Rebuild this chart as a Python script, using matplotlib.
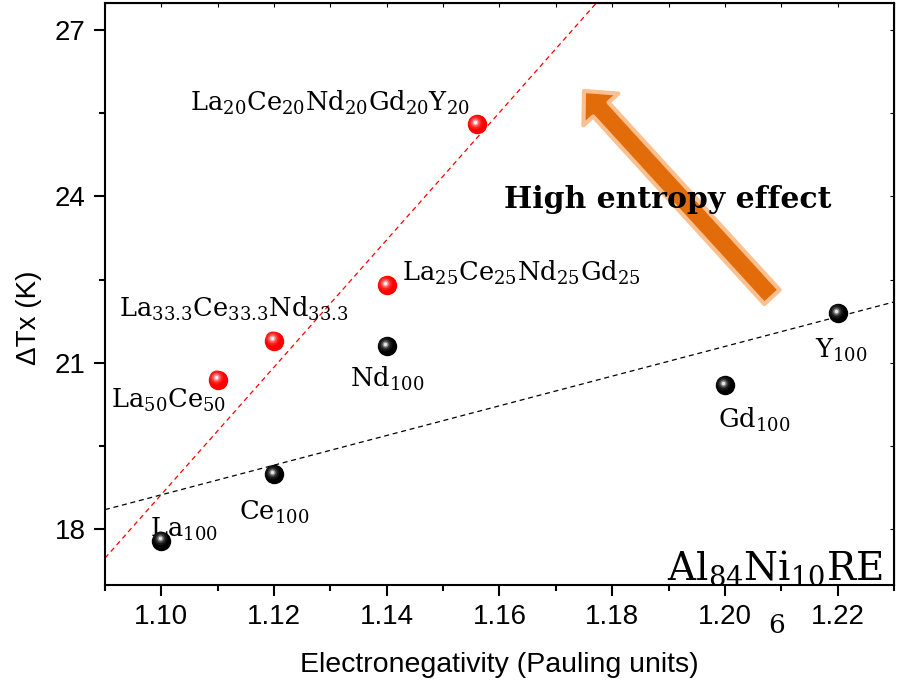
import numpy as np
import matplotlib
matplotlib.use("Agg")
import matplotlib.pyplot as plt
from matplotlib import transforms
from matplotlib.patches import FancyArrowPatch

# Pure rare-earth alloys (black) and multi-component alloys (red)
pure_names = ["La$_{100}$", "Ce$_{100}$", "Nd$_{100}$", "Gd$_{100}$", "Y$_{100}$"]
pure_chi = [1.10, 1.12, 1.14, 1.20, 1.22]
pure_dtx = [17.8, 19.0, 21.3, 20.6, 21.9]

he_names = ["La$_{50}$Ce$_{50}$",
            "La$_{33.3}$Ce$_{33.3}$Nd$_{33.3}$",
            "La$_{25}$Ce$_{25}$Nd$_{25}$Gd$_{25}$",
            "La$_{20}$Ce$_{20}$Nd$_{20}$Gd$_{20}$Y$_{20}$"]
he_chi = [1.11, 1.12, 1.14, 1.156]
he_dtx = [20.7, 21.4, 22.4, 25.3]

x_ticks = [1.10, 1.12, 1.14, 1.16, 1.18, 1.20, 1.22]
y_ticks = [18, 21, 24, 27]

# label placement (pixels from the point, horizontal alignment)
pure_offsets = [(-11, 4, "left"), (0, -46, "center"), (0, -41, "center"),
                (-7, -43, "left"), (-23, -45, "left")]
he_offsets = [(9, -28, "right"), (-40, 24, "center"), (15, 4, "left"),
              (-7, 13, "right")]

plt.rcParams["font.family"] = ["Liberation Sans", "DejaVu Sans"]
plt.rcParams["mathtext.fontset"] = "custom"
plt.rcParams["mathtext.rm"] = "DejaVu Serif"
plt.rcParams["mathtext.it"] = "DejaVu Serif"
plt.rcParams["mathtext.bf"] = "DejaVu Serif:bold"

fig = plt.figure(figsize=(9.05, 6.91), dpi=100)
ax = fig.add_axes([105 / 905, 106 / 691, 789 / 905, 582 / 691])
ax.set_xlim(1.09, 1.23)
ax.set_ylim(17.0, 27.48)

# linear fits: pure metals, and La plus the multi-component alloys
xx = np.array([1.09, 1.23])
k1, b1 = np.polyfit(pure_chi, pure_dtx, 1)
ax.plot(xx, k1 * xx + b1, ls=(0, (4, 3)), color="black", lw=0.9, zorder=2)
fit_x = [pure_chi[0]] + he_chi
fit_y = [pure_dtx[0]] + he_dtx
k2, b2 = np.polyfit(fit_x, fit_y, 1)
ax.plot(xx, k2 * xx + b2, ls=(0, (4, 3)), color="red", lw=0.9, zorder=2)


def spheres(xs, ys, shades):
    """Glossy ball markers: a solid disc with a lighter off-centre glint."""
    sizes = [14, 10, 7, 4.5, 2.5]
    for i, (ms, c) in enumerate(zip(sizes, shades)):
        dx = 0 if i == 0 else -1.2
        dy = 0 if i == 0 else 1.6
        tr = transforms.offset_copy(ax.transData, fig=fig, x=dx, y=dy, units="points")
        ax.plot(xs, ys, "o", ms=ms, color=c, mec="none", transform=tr, zorder=5 + i)


spheres(pure_chi, pure_dtx, ["#000000", "#151515", "#3a3a3a", "#8a8a8a", "#e6e6e6"])
spheres(he_chi, he_dtx, ["#ff0000", "#ff1a1a", "#ff4a4a", "#ff9a9a", "#fff0f0"])

label_kw = dict(textcoords="offset pixels", va="baseline", fontsize=18.5,
                family="DejaVu Serif", zorder=3)
for name, x, y, (dx, dy, ha) in zip(pure_names, pure_chi, pure_dtx, pure_offsets):
    ax.annotate(name, (x, y), xytext=(dx, dy), ha=ha, **label_kw)
for name, x, y, (dx, dy, ha) in zip(he_names, he_chi, he_dtx, he_offsets):
    ax.annotate(name, (x, y), xytext=(dx, dy), ha=ha, **label_kw)

# arrow indicating the trend
arrow = FancyArrowPatch((0.8454, 0.4948), (0.6071, 0.8488), transform=ax.transAxes,
                        arrowstyle="simple,head_length=18,head_width=34,tail_width=15",
                        mutation_scale=1, shrinkA=0, shrinkB=0,
                        facecolor="#E36C0A", edgecolor="#FAC090", lw=3, zorder=4)
ax.add_patch(arrow)
ax.text(0.7136, 0.6478, "High entropy effect", transform=ax.transAxes, ha="center",
        va="baseline", fontsize=21.5, fontweight="bold", family="DejaVu Serif", zorder=8)

ax.text(0.986, 0.0086, "Al$_{84}$Ni$_{10}$RE", transform=ax.transAxes, ha="right",
        va="baseline", fontsize=28, family="DejaVu Serif", zorder=8)
ax.text(0.8517, -0.0825, "6", transform=ax.transAxes, ha="center", va="baseline",
        fontsize=19, family="DejaVu Serif", zorder=8)

# axes styling
for s in ax.spines.values():
    s.set_linewidth(1.5)
ax.set_xticks(x_ticks)
ax.set_xticklabels([f"{v:.2f}" for v in x_ticks])
ax.set_xticks(np.arange(1.09, 1.2301, 0.01), minor=True)
ax.set_yticks(y_ticks)
ax.set_yticks([19.5, 22.5, 25.5], minor=True)
ax.tick_params(which="major", direction="out", length=8, width=1.5, labelsize=20, pad=6)
ax.tick_params(which="minor", direction="out", length=4, width=1.5)

top = ax.secondary_xaxis("top")
top.set_xticks(np.arange(1.09, 1.2301, 0.01))
top.tick_params(direction="in", length=3, width=0.8, labeltop=False)
right = ax.secondary_yaxis("right")
right.set_yticks(np.arange(18, 27.01, 1.5))
right.tick_params(direction="in", length=3, width=0.8, labelright=False)

ax.set_xlabel("Electronegativity (Pauling units)", fontsize=20.5)
ax.xaxis.set_label_coords(0.5, -0.115)
ax.xaxis.label.set_va("top")
ax.set_ylabel("ΔTx (K)", fontsize=20)
ax.yaxis.set_label_coords(-0.08, 0.46)

fig.savefig("out.png", dpi=100)
